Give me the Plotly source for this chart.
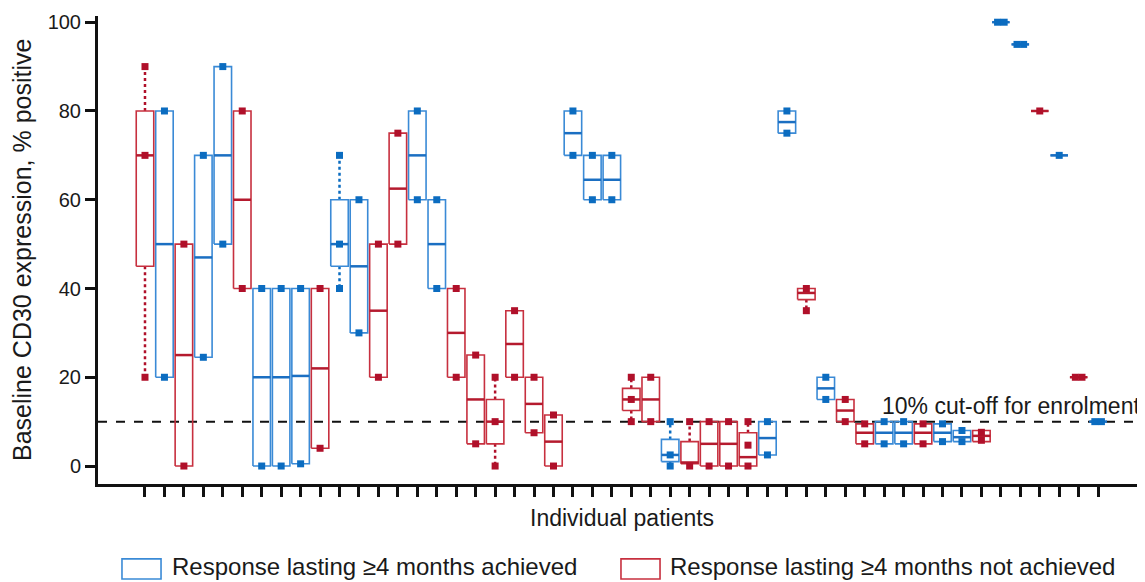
import plotly.graph_objects as go

# ---- data (one entry per patient, left to right) ----
group = ["N","A","N","A","A","N","A","A","A","N",
         "A","A","N","N","A","A","N","N","N","N",
         "N","N","A","A","A","N","N","A","N","N",
         "N","N","A","A","N","A","N","N","A","A",
         "N","A","A","N","A","A","N","A","N","A"]
q1  = [45,20,0,24.5,50,40,0,0,0.5,4,
       45,30,20,50,60,40,20,5,5,20,
       7.5,0,70,60,60,12.5,10,1,0.5,0,
       0,0,2.5,75,37.5,15,10,5,5,5,
       5,5.5,5.5,5.5,100,95,80,70,20,10]
median = [70,50,25,47,70,60,20,20,20.3,22,
          50,45,35,62.5,70,50,30,15,10,27.5,
          14,5.5,75,64.5,64.5,15,15,2.5,0.8,5,
          5,2,6.3,77.5,39,17.5,12.5,7.5,7.5,7.5,
          7.5,7.5,6.5,6.8,100,95,80,70,20,10]
q3  = [80,80,50,70,90,80,40,40,40,40,
       60,60,50,75,80,60,40,25,15,35,
       20,11.5,80,70,70,17.5,20,6,5.5,10,
       10,7.5,10,80,40,20,15,9.5,10,10,
       9.5,9.5,8,8,100,95,80,70,20,10]
points = [[90,70,20],[80,20],[50,0],[70,24.5],[90,50],[80,40],[40,0],[40,0],[40,0.5],[40,4],
          [70,50,40],[60,30],[50,20],[75,50],[80,60],[60,40],[40,20],[25,5],[20,10,0],[35,20],
          [20,7.5],[11.5,0],[80,70],[70,60],[70,60],[20,15,10],[20,10],[10,2.5,0],[10,0],[10,0],
          [10,0],[10,4.7,0],[10,2.5],[80,75],[40,35],[20,15],[15,10],[9.5,5],[10,5],[10,5],
          [9.5,5],[9.5,5.5],[8,5.5],[7.6,5.8],[100,100],[95,95],[80],[70],[20,20],[10,10]]
cutoff = 10
yticks = [0, 20, 40, 60, 80, 100]
legend_labels = {"A": "Response lasting \u22654 months achieved",
                 "N": "Response lasting \u22654 months not achieved"}

# ---- styles ----
BOX_COL = {"A": "#3a8ad6", "N": "#c7303f"}
MED_COL = {"A": "#1b6fc2", "N": "#b51a2e"}
MRK_COL = {"A": "#0b6cc0", "N": "#b0102a"}
HW = 0.45      # half box width (category units)
DUP = 0.17     # offset for coincident points
FONT = "Liberation Sans, Arial, Helvetica, sans-serif"
TXT = "#1a1a1a"

fig = go.Figure()

for g in ["A", "N"]:
    bx, by, mx, my, wx, wy, px, py = [], [], [], [], [], [], [], []
    for i, grp in enumerate(group):
        if grp != g:
            continue
        a, m, b = q1[i], median[i], q3[i]
        bx += [i - HW, i + HW, i + HW, i - HW, i - HW, None]
        by += [a, a, b, b, a, None]
        mx += [i - HW, i + HW, None]
        my += [m, m, None]
        hi, lo = max(points[i]), min(points[i])
        if hi > b:
            wx += [i, i, None]; wy += [b, hi, None]
        if lo < a:
            wx += [i, i, None]; wy += [a, lo, None]
        seen = {}
        for v in points[i]:
            seen[v] = seen.get(v, 0) + 1
        for v, c in seen.items():
            if c == 1:
                px.append(i); py.append(v)
            else:
                for k in range(c):
                    px.append(i + DUP * (2 * k - (c - 1)) / (c - 1))
                    py.append(v)
    fig.add_trace(go.Scatter(x=wx, y=wy, mode="lines", showlegend=False, hoverinfo="skip",
                             line=dict(color=MRK_COL[g], width=2.5, dash="dot")))
    fig.add_trace(go.Scatter(x=bx, y=by, mode="lines", showlegend=False, hoverinfo="skip",
                             line=dict(color=BOX_COL[g], width=1.6)))
    fig.add_trace(go.Scatter(x=mx, y=my, mode="lines", showlegend=False, hoverinfo="skip",
                             line=dict(color=MED_COL[g], width=2.5)))
    fig.add_trace(go.Scatter(x=px, y=py, mode="markers", showlegend=False,
                             marker=dict(symbol="square", size=7, color=MRK_COL[g],
                                         line=dict(width=0))))

# cut-off line
fig.add_shape(type="line", xref="paper", x0=0, x1=1, y0=cutoff, y1=cutoff,
              line=dict(color="#111", width=2, dash="dash"), layer="below")
fig.add_annotation(x=1, xref="paper", y=cutoff, yref="y", xanchor="right", yanchor="bottom",
                   xshift=-3, yshift=1, showarrow=False, text="10% cut-off for enrolment",
                   font=dict(family=FONT, size=23, color=TXT))

# axis titles
fig.add_annotation(x=0.5, y=-0.073, xref="paper", yref="paper", showarrow=False,
                   text="Individual patients", xanchor="center", yanchor="middle",
                   font=dict(family=FONT, size=23, color=TXT))
fig.add_annotation(x=-0.0726, y=0.5, xref="paper", yref="paper", showarrow=False,
                   text="Baseline CD30 expression, % positive", textangle=-90,
                   xanchor="center", yanchor="middle",
                   font=dict(family=FONT, size=25, color=TXT))

# manual legend
for g, x0, x1, tx in [("A", 0.0229, 0.0602, 0.0688), ("N", 0.4995, 0.5368, 0.5444)]:
    fig.add_shape(type="rect", xref="paper", yref="paper", x0=x0, x1=x1, y0=-0.160, y1=-0.203,
                  line=dict(color=BOX_COL[g], width=1.6), fillcolor="white")
    fig.add_annotation(x=tx, y=-0.176, xref="paper", yref="paper", showarrow=False,
                       text=legend_labels[g], xanchor="left", yanchor="middle",
                       font=dict(family=FONT, size=24, color=TXT))

# the page body has an 8px margin, so the figure is sized to fit the window exactly
fig.update_layout(
    width=1137, height=574,
    margin=dict(l=90, r=0, t=8, b=98),
    paper_bgcolor="white", plot_bgcolor="white",
    font=dict(family=FONT, size=20, color=TXT),
    xaxis=dict(range=[-2.416, 51.41], tickvals=list(range(len(group))), showticklabels=False,
               ticks="outside", ticklen=10, tickwidth=3, tickcolor="#111",
               showline=True, linewidth=3, linecolor="#111", showgrid=False, zeroline=False),
    yaxis=dict(range=[-4.05, 101.4], tickvals=yticks, ticks="outside", ticklen=10, tickwidth=3,
               tickcolor="#111", showline=True, linewidth=3, linecolor="#111",
               showgrid=False, zeroline=False, ticklabelstandoff=0,
               tickfont=dict(family=FONT, size=20, color=TXT)),
)

fig.write_html("out.html")
